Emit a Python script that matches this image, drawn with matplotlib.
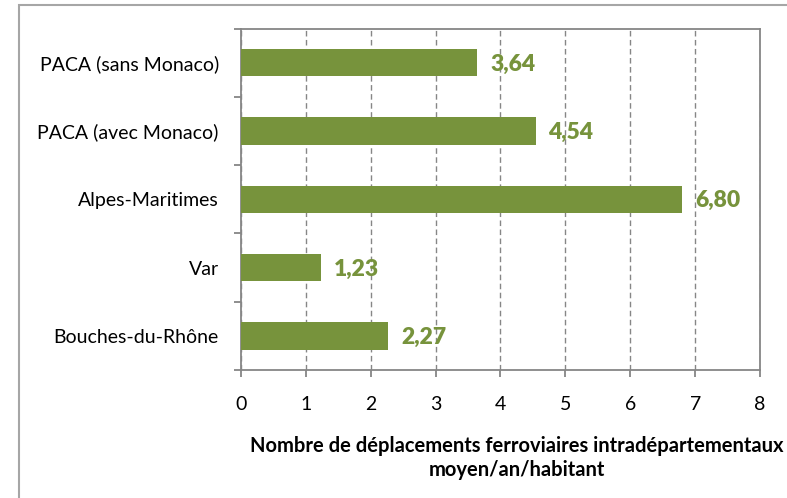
import matplotlib.pyplot as plt
from matplotlib.patches import Rectangle

plt.rcParams['font.family'] = ['Lato', 'DejaVu Sans']

categories = ["PACA (sans Monaco)", "PACA (avec Monaco)", "Alpes-Maritimes",
              "Var", "Bouches-du-Rhône"]
values = [3.64, 4.54, 6.80, 1.23, 2.27]
xticks = [0, 1, 2, 3, 4, 5, 6, 7, 8]

green = "#77933C"
grey = "#868686"

fig = plt.figure(figsize=(7.87, 4.98), dpi=100)
ax = fig.add_axes([0.3062, 0.257, 0.6595, 0.6855])

# outer chart frame (runs off the right and bottom edges)
fig.patches.append(Rectangle((18.5 / 787, -0.05), 1.2, 1 - 4.5 / 498 + 0.05,
                             transform=fig.transFigure, fill=False,
                             edgecolor="#a6a6a6", lw=1.5))

pos = list(range(len(categories)))
ax.barh(pos, values, height=0.4, color=green, zorder=3)

for p, v in zip(pos, values):
    ax.text(v + 0.2, p + 0.02, f"{v:.2f}".replace(".", ","), va="center", ha="left",
            color=green, fontsize=16.5, fontweight="heavy", zorder=4)

ax.set_xlim(0, 8)
ax.set_ylim(len(categories) - 0.5, -0.5)
ax.set_xticks(xticks)
ax.set_xticklabels([str(t) for t in xticks])
ax.xaxis.grid(True, linestyle=(0, (4, 2.5)), color=grey, lw=1)

# category labels centred, ticks on the boundaries
ax.set_yticks(pos)
ax.set_yticklabels(categories)
ax.set_yticks([i - 0.5 for i in range(len(categories) + 1)], minor=True)
ax.tick_params(axis="y", which="major", length=0, pad=16, labelsize=14)
ax.tick_params(axis="y", which="minor", length=5, color=grey, width=1.3)
ax.tick_params(axis="x", length=5, color=grey, width=1.3, pad=14, labelsize=14)

for s in ax.spines.values():
    s.set_color(grey)
    s.set_linewidth(1.3)

ax.set_xlabel("Nombre de déplacements ferroviaires intradépartementaux\nmoyen/an/habitant",
              fontsize=14.5, fontweight="bold", linespacing=1.25)
ax.xaxis.set_label_coords(0.532, -0.192, transform=ax.transAxes)
ax.xaxis.label.set_va("top")

fig.savefig("out.png", dpi=100)
